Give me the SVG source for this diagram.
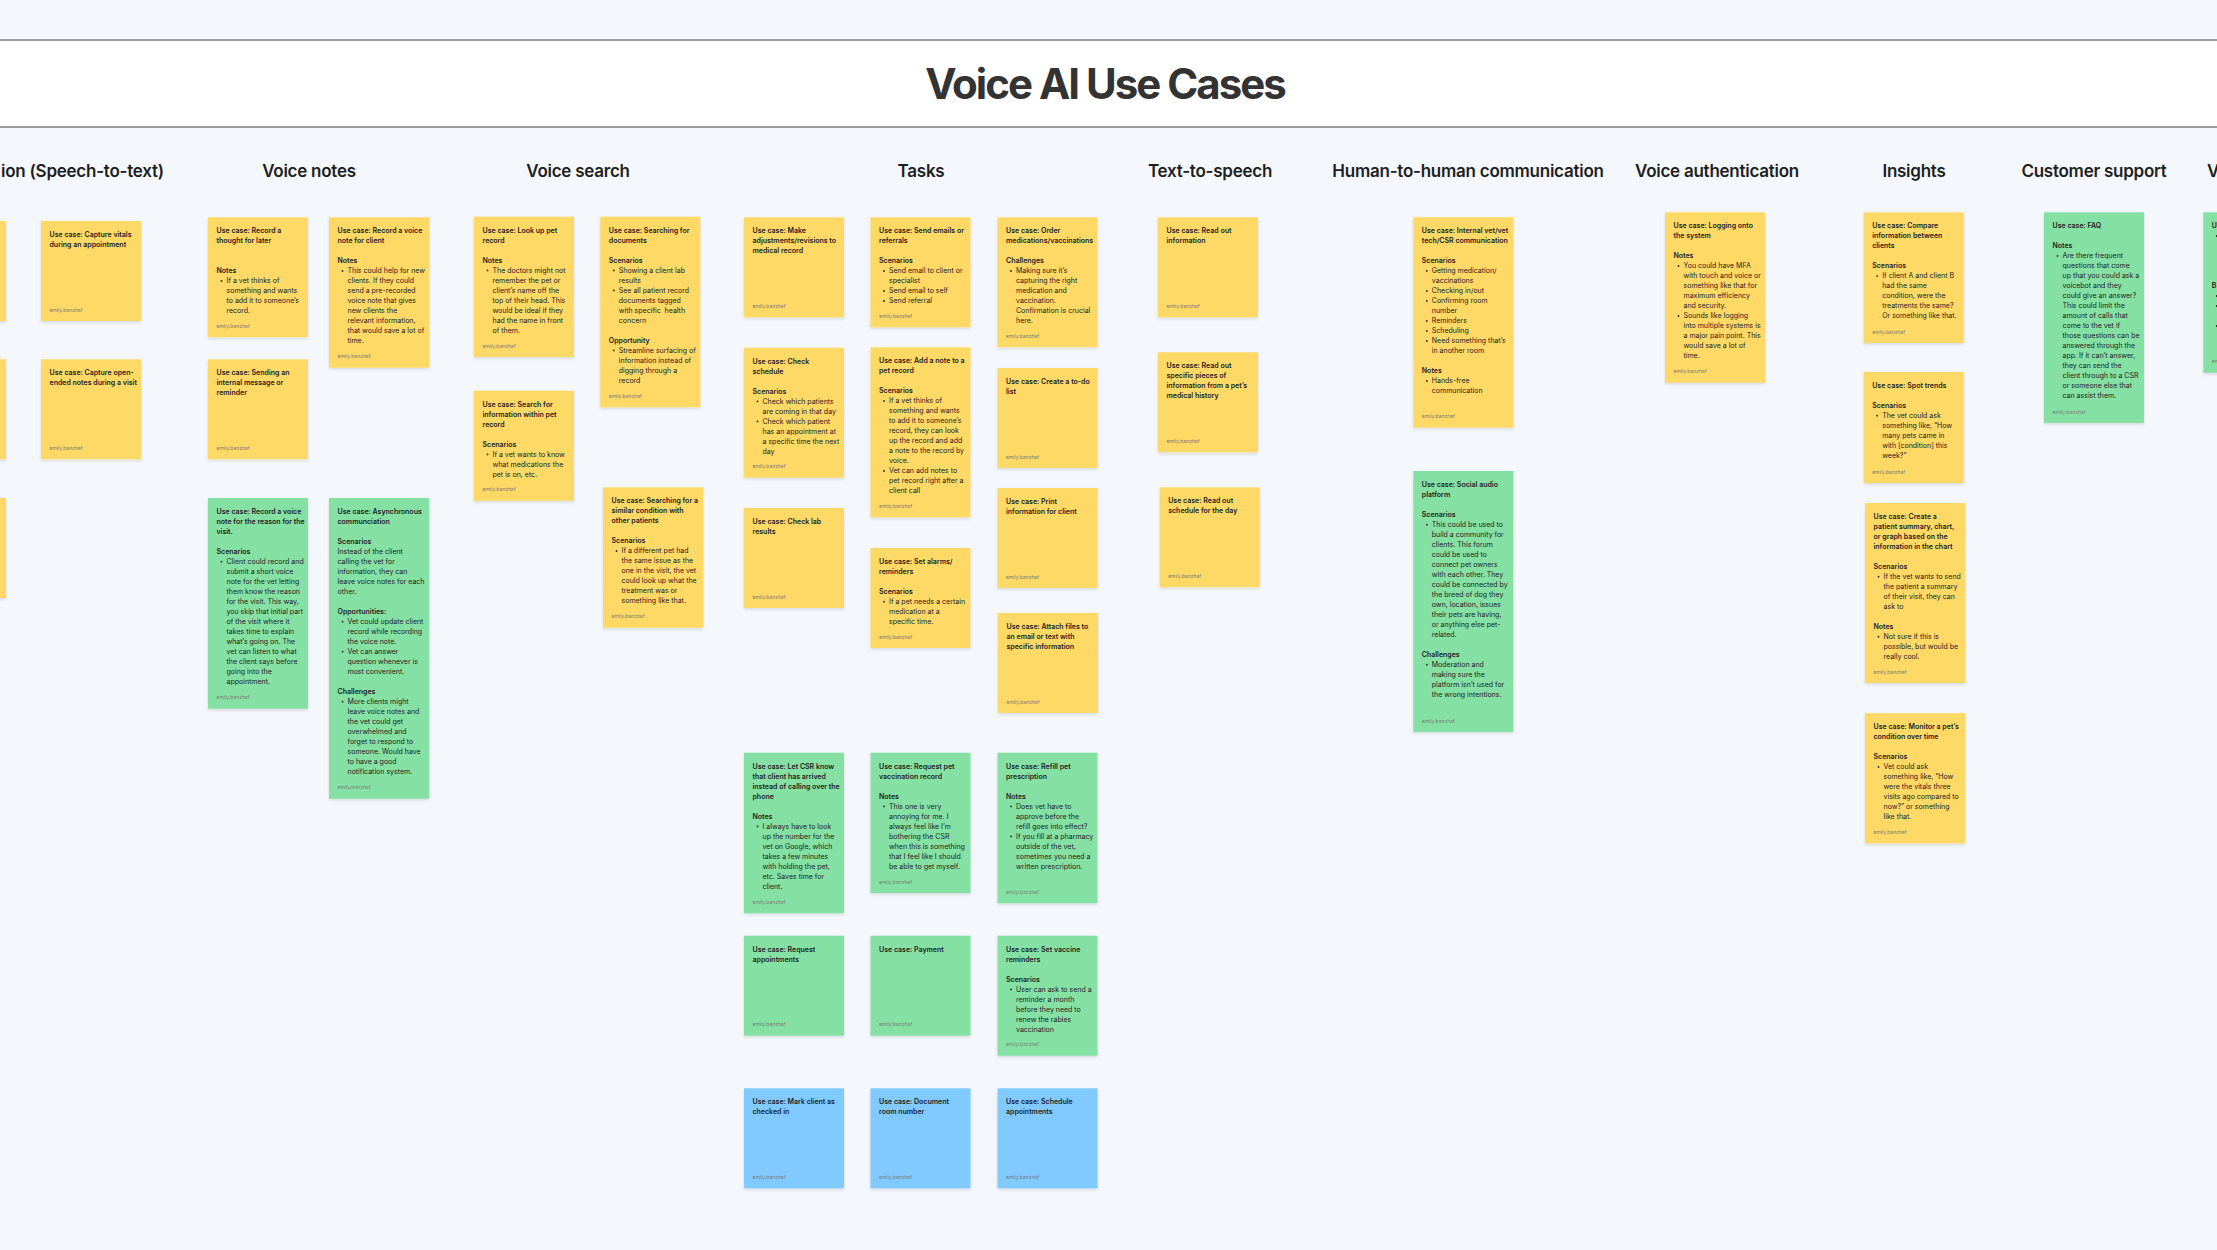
<svg xmlns="http://www.w3.org/2000/svg" width="2217" height="1250" viewBox="0 0 2217 1250">
<defs>
<filter id="sh" x="-10%" y="-10%" width="120%" height="125%"><feDropShadow dx="0" dy="1.5" stdDeviation="1.4" flood-color="#000" flood-opacity="0.13"/></filter>
<style>
.bg{fill:#F4F8FD}
.band{fill:#FFFFFF}
.rule{stroke:#7d7d7d;stroke-width:1.5}
.title{font-family:Inter,"Liberation Sans",sans-serif;font-weight:700;font-size:42px;letter-spacing:-2px;fill:#333333}
.col{font-family:Inter,"Liberation Sans",sans-serif;font-weight:600;font-size:17px;letter-spacing:-0.25px;fill:#1e1e1e}
.y,.g,.b{filter:url(#sh)}
.y{fill:#FFD966}
.g{fill:#85E0A3}
.b{fill:#80CAFF}
.t,.h{font-family:Inter,"Liberation Sans",sans-serif;font-weight:600;font-size:7px;fill:#222222}
.p{font-family:Inter,"Liberation Sans",sans-serif;font-weight:400;font-size:7px;fill:#222222}
.f{font-family:Inter,"Liberation Sans",sans-serif;font-weight:400;font-size:5px;fill:#7a7a7a}
.d{fill:#222222}
</style>
</defs>
<rect class="bg" x="0" y="0" width="2217" height="1250"/>
<rect class="band" x="0" y="40" width="2217" height="87"/>
<line class="rule" x1="0" y1="40" x2="2217" y2="40"/>
<line class="rule" x1="0" y1="127" x2="2217" y2="127"/>
<text class="title" x="1105" y="99" text-anchor="middle">Voice AI Use Cases</text>

<g id="column-headers">
<text class="col" x="1" y="176.5">ion (Speech-to-text)</text>
<text class="col" x="309" y="176.5" text-anchor="middle">Voice notes</text>
<text class="col" x="578" y="176.5" text-anchor="middle">Voice search</text>
<text class="col" x="921" y="176.5" text-anchor="middle">Tasks</text>
<text class="col" x="1210" y="176.5" text-anchor="middle">Text-to-speech</text>
<text class="col" x="1468" y="176.5" text-anchor="middle">Human-to-human communication</text>
<text class="col" x="1717" y="176.5" text-anchor="middle">Voice authentication</text>
<text class="col" x="1914" y="176.5" text-anchor="middle">Insights</text>
<text class="col" x="2094" y="176.5" text-anchor="middle">Customer support</text>
<text class="col" x="2207" y="176.5">V</text>
</g>

<g id="connectors"></g>

<!-- left partial column -->
<g id="n-left-1" transform="translate(-94,221)"><rect class="y" width="100" height="100"/></g>
<g id="n-left-2" transform="translate(-94,359.3)"><rect class="y" width="100" height="100"/></g>
<g id="n-left-3" transform="translate(-94,498)"><rect class="y" width="100" height="100"/></g>

<g id="n-capture-vitals" transform="translate(41,221)"><rect class="y" width="100" height="100"/>
<text class="t" x="8.5" y="16">Use case: Capture vitals</text>
<text class="t" x="8.5" y="26">during an appointment</text>
<text class="f" x="8.5" y="90.7">emily.banzhaf</text></g>

<g id="n-capture-open" transform="translate(41,359.3)"><rect class="y" width="100" height="100"/>
<text class="t" x="8.5" y="16">Use case: Capture open-</text>
<text class="t" x="8.5" y="26">ended notes during a visit</text>
<text class="f" x="8.5" y="90.7">emily.banzhaf</text></g>

<!-- Voice notes -->
<g id="n-record-thought" transform="translate(208,217.3)"><rect class="y" width="100" height="120"/>
<text class="t" x="8.5" y="16">Use case: Record a</text>
<text class="t" x="8.5" y="26">thought for later</text>
<text class="h" x="8.5" y="56">Notes</text>
<circle class="d" cx="13.5" cy="63.7" r="0.9"/>
<text class="p" x="18.5" y="66">If a vet thinks of</text>
<text class="p" x="18.5" y="76">something and wants</text>
<text class="p" x="18.5" y="86">to add it to someone’s</text>
<text class="p" x="18.5" y="96">record.</text>
<text class="f" x="8.5" y="110.7">emily.banzhaf</text></g>

<g id="n-sending-internal" transform="translate(208,359.3)"><rect class="y" width="100" height="100"/>
<text class="t" x="8.5" y="16">Use case: Sending an</text>
<text class="t" x="8.5" y="26">internal message or</text>
<text class="t" x="8.5" y="36">reminder</text>
<text class="f" x="8.5" y="90.7">emily.banzhaf</text></g>

<g id="n-record-voice-client" transform="translate(329,217.3)"><rect class="y" width="100" height="150.4"/>
<text class="t" x="8.5" y="16">Use case: Record a voice</text>
<text class="t" x="8.5" y="26">note for client</text>
<text class="h" x="8.5" y="46">Notes</text>
<circle class="d" cx="13.5" cy="53.7" r="0.9"/>
<text class="p" x="18.5" y="56">This could help for new</text>
<text class="p" x="18.5" y="66">clients. If they could</text>
<text class="p" x="18.5" y="76">send a pre-recorded</text>
<text class="p" x="18.5" y="86">voice note that gives</text>
<text class="p" x="18.5" y="96">new clients the</text>
<text class="p" x="18.5" y="106">relevant information,</text>
<text class="p" x="18.5" y="116">that would save a lot of</text>
<text class="p" x="18.5" y="126">time.</text>
<text class="f" x="8.5" y="141">emily.banzhaf</text></g>

<g id="n-record-reason" transform="translate(208,498)"><rect class="g" width="100" height="210.7"/>
<text class="t" x="8.5" y="16">Use case: Record a voice</text>
<text class="t" x="8.5" y="26">note for the reason for the</text>
<text class="t" x="8.5" y="36">visit.</text>
<text class="h" x="8.5" y="56">Scenarios</text>
<circle class="d" cx="13.5" cy="63.7" r="0.9"/>
<text class="p" x="18.5" y="66">Client could record and</text>
<text class="p" x="18.5" y="76">submit a short voice</text>
<text class="p" x="18.5" y="86">note for the vet letting</text>
<text class="p" x="18.5" y="96">them know the reason</text>
<text class="p" x="18.5" y="106">for the visit. This way,</text>
<text class="p" x="18.5" y="116">you skip that initial part</text>
<text class="p" x="18.5" y="126">of the visit where it</text>
<text class="p" x="18.5" y="136">takes time to explain</text>
<text class="p" x="18.5" y="146">what’s going on. The</text>
<text class="p" x="18.5" y="156">vet can listen to what</text>
<text class="p" x="18.5" y="166">the client says before</text>
<text class="p" x="18.5" y="176">going into the</text>
<text class="p" x="18.5" y="186">appointment.</text>
<text class="f" x="8.5" y="201.4">emily.banzhaf</text></g>

<g id="n-async" transform="translate(329,498)"><rect class="g" width="100" height="300.7"/>
<text class="t" x="8.5" y="16">Use case: Asynchronous</text>
<text class="t" x="8.5" y="26">communciation</text>
<text class="h" x="8.5" y="46">Scenarios</text>
<text class="p" x="8.5" y="56">Instead of the client</text>
<text class="p" x="8.5" y="66">calling the vet for</text>
<text class="p" x="8.5" y="76">information, they can</text>
<text class="p" x="8.5" y="86">leave voice notes for each</text>
<text class="p" x="8.5" y="96">other.</text>
<text class="h" x="8.5" y="116">Opportunities:</text>
<circle class="d" cx="13.5" cy="123.7" r="0.9"/>
<text class="p" x="18.5" y="126">Vet could update client</text>
<text class="p" x="18.5" y="136">record while recording</text>
<text class="p" x="18.5" y="146">the voice note.</text>
<circle class="d" cx="13.5" cy="153.7" r="0.9"/>
<text class="p" x="18.5" y="156">Vet can answer</text>
<text class="p" x="18.5" y="166">question whenever is</text>
<text class="p" x="18.5" y="176">most convenient.</text>
<text class="h" x="8.5" y="196">Challenges</text>
<circle class="d" cx="13.5" cy="203.7" r="0.9"/>
<text class="p" x="18.5" y="206">More clients might</text>
<text class="p" x="18.5" y="216">leave voice notes and</text>
<text class="p" x="18.5" y="226">the vet could get</text>
<text class="p" x="18.5" y="236">overwhelmed and</text>
<text class="p" x="18.5" y="246">forget to respond to</text>
<text class="p" x="18.5" y="256">someone. Would have</text>
<text class="p" x="18.5" y="266">to have a good</text>
<text class="p" x="18.5" y="276">notification system.</text>
<text class="f" x="8.5" y="291.4">emily.banzhaf</text></g>

<!-- Voice search -->
<g id="n-lookup" transform="translate(474,216.7)"><rect class="y" width="100" height="140.3"/>
<text class="t" x="8.5" y="16">Use case: Look up pet</text>
<text class="t" x="8.5" y="26">record</text>
<text class="h" x="8.5" y="46">Notes</text>
<circle class="d" cx="13.5" cy="53.7" r="0.9"/>
<text class="p" x="18.5" y="56">The doctors might not</text>
<text class="p" x="18.5" y="66">remember the pet or</text>
<text class="p" x="18.5" y="76">client’s name off the</text>
<text class="p" x="18.5" y="86">top of their head. This</text>
<text class="p" x="18.5" y="96">would be ideal if they</text>
<text class="p" x="18.5" y="106">had the name in front</text>
<text class="p" x="18.5" y="116">of them.</text>
<text class="f" x="8.5" y="131">emily.banzhaf</text></g>

<g id="n-search-docs" transform="translate(600.3,216.7)"><rect class="y" width="100" height="190.6"/>
<text class="t" x="8.5" y="16">Use case: Searching for</text>
<text class="t" x="8.5" y="26">documents</text>
<text class="h" x="8.5" y="46">Scenarios</text>
<circle class="d" cx="13.5" cy="53.7" r="0.9"/>
<text class="p" x="18.5" y="56">Showing a client lab</text>
<text class="p" x="18.5" y="66">results</text>
<circle class="d" cx="13.5" cy="73.7" r="0.9"/>
<text class="p" x="18.5" y="76">See all patient record</text>
<text class="p" x="18.5" y="86">documents tagged</text>
<text class="p" x="18.5" y="96" xml:space="preserve">with specific  health</text>
<text class="p" x="18.5" y="106">concern</text>
<text class="h" x="8.5" y="126">Opportunity</text>
<circle class="d" cx="13.5" cy="133.7" r="0.9"/>
<text class="p" x="18.5" y="136">Streamline surfacing of</text>
<text class="p" x="18.5" y="146">information instead of</text>
<text class="p" x="18.5" y="156">digging through a</text>
<text class="p" x="18.5" y="166">record</text>
<text class="f" x="8.5" y="181.3">emily.banzhaf</text></g>

<g id="n-search-info" transform="translate(474,390.7)"><rect class="y" width="100" height="110"/>
<text class="t" x="8.5" y="16">Use case: Search for</text>
<text class="t" x="8.5" y="26">information within pet</text>
<text class="t" x="8.5" y="36">record</text>
<text class="h" x="8.5" y="56">Scenarios</text>
<circle class="d" cx="13.5" cy="63.7" r="0.9"/>
<text class="p" x="18.5" y="66">If a vet wants to know</text>
<text class="p" x="18.5" y="76">what medications the</text>
<text class="p" x="18.5" y="86">pet is on, etc.</text>
<text class="f" x="8.5" y="100.7">emily.banzhaf</text></g>

<g id="n-search-similar" transform="translate(603,487.3)"><rect class="y" width="100" height="140.4"/>
<text class="t" x="8.5" y="16">Use case: Searching for a</text>
<text class="t" x="8.5" y="26">similar condition with</text>
<text class="t" x="8.5" y="36">other patients</text>
<text class="h" x="8.5" y="56">Scenarios</text>
<circle class="d" cx="13.5" cy="63.7" r="0.9"/>
<text class="p" x="18.5" y="66">If a different pet had</text>
<text class="p" x="18.5" y="76">the same issue as the</text>
<text class="p" x="18.5" y="86">one in the visit, the vet</text>
<text class="p" x="18.5" y="96">could look up what the</text>
<text class="p" x="18.5" y="106">treatment was or</text>
<text class="p" x="18.5" y="116">something like that.</text>
<text class="f" x="8.5" y="131.1">emily.banzhaf</text></g>

<!-- Tasks -->
<g id="n-make-adjustments" transform="translate(744,217.3)"><rect class="y" width="100" height="100"/>
<text class="t" x="8.5" y="16">Use case: Make</text>
<text class="t" x="8.5" y="26">adjustments/revisions to</text>
<text class="t" x="8.5" y="36">medical record</text>
<text class="f" x="8.5" y="90.7">emily.banzhaf</text></g>

<g id="n-check-schedule" transform="translate(744,347.7)"><rect class="y" width="100" height="130"/>
<text class="t" x="8.5" y="16">Use case: Check</text>
<text class="t" x="8.5" y="26">schedule</text>
<text class="h" x="8.5" y="46">Scenarios</text>
<circle class="d" cx="13.5" cy="53.7" r="0.9"/>
<text class="p" x="18.5" y="56">Check which patients</text>
<text class="p" x="18.5" y="66">are coming in that day</text>
<circle class="d" cx="13.5" cy="73.7" r="0.9"/>
<text class="p" x="18.5" y="76">Check which patient</text>
<text class="p" x="18.5" y="86">has an appointment at</text>
<text class="p" x="18.5" y="96">a specific time the next</text>
<text class="p" x="18.5" y="106">day</text>
<text class="f" x="8.5" y="120.7">emily.banzhaf</text></g>

<g id="n-check-lab" transform="translate(744,508)"><rect class="y" width="100" height="100"/>
<text class="t" x="8.5" y="16">Use case: Check lab</text>
<text class="t" x="8.5" y="26">results</text>
<text class="f" x="8.5" y="90.7">emily.banzhaf</text></g>

<g id="n-send-emails" transform="translate(870.5,217.3)"><rect class="y" width="100" height="110"/>
<text class="t" x="8.5" y="16">Use case: Send emails or</text>
<text class="t" x="8.5" y="26">referrals</text>
<text class="h" x="8.5" y="46">Scenarios</text>
<circle class="d" cx="13.5" cy="53.7" r="0.9"/>
<text class="p" x="18.5" y="56">Send email to client or</text>
<text class="p" x="18.5" y="66">specialist</text>
<circle class="d" cx="13.5" cy="73.7" r="0.9"/>
<text class="p" x="18.5" y="76">Send email to self</text>
<circle class="d" cx="13.5" cy="83.7" r="0.9"/>
<text class="p" x="18.5" y="86">Send referral</text>
<text class="f" x="8.5" y="100.7">emily.banzhaf</text></g>

<g id="n-add-note" transform="translate(870.5,347.3)"><rect class="y" width="100" height="170"/>
<text class="t" x="8.5" y="16">Use case: Add a note to a</text>
<text class="t" x="8.5" y="26">pet record</text>
<text class="h" x="8.5" y="46">Scenarios</text>
<circle class="d" cx="13.5" cy="53.7" r="0.9"/>
<text class="p" x="18.5" y="56">If a vet thinks of</text>
<text class="p" x="18.5" y="66">something and wants</text>
<text class="p" x="18.5" y="76">to add it to someone’s</text>
<text class="p" x="18.5" y="86">record, they can look</text>
<text class="p" x="18.5" y="96">up the record and add</text>
<text class="p" x="18.5" y="106">a note to the record by</text>
<text class="p" x="18.5" y="116">voice.</text>
<circle class="d" cx="13.5" cy="123.7" r="0.9"/>
<text class="p" x="18.5" y="126">Vet can add notes to</text>
<text class="p" x="18.5" y="136">pet record right after a</text>
<text class="p" x="18.5" y="146">client call</text>
<text class="f" x="8.5" y="160.7">emily.banzhaf</text></g>

<g id="n-set-alarms" transform="translate(870.5,548)"><rect class="y" width="100" height="100"/>
<text class="t" x="8.5" y="16">Use case: Set alarms/</text>
<text class="t" x="8.5" y="26">reminders</text>
<text class="h" x="8.5" y="46">Scenarios</text>
<circle class="d" cx="13.5" cy="53.7" r="0.9"/>
<text class="p" x="18.5" y="56">If a pet needs a certain</text>
<text class="p" x="18.5" y="66">medication at a</text>
<text class="p" x="18.5" y="76">specific time.</text>
<text class="f" x="8.5" y="90.7">emily.banzhaf</text></g>

<g id="n-order-meds" transform="translate(997.5,217.3)"><rect class="y" width="100" height="130"/>
<text class="t" x="8.5" y="16">Use case: Order</text>
<text class="t" x="8.5" y="26">medications/vaccinations</text>
<text class="h" x="8.5" y="46">Challenges</text>
<circle class="d" cx="13.5" cy="53.7" r="0.9"/>
<text class="p" x="18.5" y="56">Making sure it’s</text>
<text class="p" x="18.5" y="66">capturing the right</text>
<text class="p" x="18.5" y="76">medication and</text>
<text class="p" x="18.5" y="86">vaccination.</text>
<text class="p" x="18.5" y="96">Confirmation is crucial</text>
<text class="p" x="18.5" y="106">here.</text>
<text class="f" x="8.5" y="120.7">emily.banzhaf</text></g>

<g id="n-todo" transform="translate(997.5,368)"><rect class="y" width="100" height="100"/>
<text class="t" x="8.5" y="16">Use case: Create a to-do</text>
<text class="t" x="8.5" y="26">list</text>
<text class="f" x="8.5" y="90.7">emily.banzhaf</text></g>

<g id="n-print" transform="translate(997.5,488)"><rect class="y" width="100" height="100"/>
<text class="t" x="8.5" y="16">Use case: Print</text>
<text class="t" x="8.5" y="26">information for client</text>
<text class="f" x="8.5" y="90.7">emily.banzhaf</text></g>

<g id="n-attach" transform="translate(998,613)"><rect class="y" width="100" height="100"/>
<text class="t" x="8.5" y="16">Use case: Attach files to</text>
<text class="t" x="8.5" y="26">an email or text with</text>
<text class="t" x="8.5" y="36">specific information</text>
<text class="f" x="8.5" y="90.7">emily.banzhaf</text></g>

<g id="n-csr-know" transform="translate(744,752.7)"><rect class="g" width="100" height="160.6"/>
<text class="t" x="8.5" y="16">Use case: Let CSR know</text>
<text class="t" x="8.5" y="26">that client has arrived</text>
<text class="t" x="8.5" y="36">instead of calling over the</text>
<text class="t" x="8.5" y="46">phone</text>
<text class="h" x="8.5" y="66">Notes</text>
<circle class="d" cx="13.5" cy="73.7" r="0.9"/>
<text class="p" x="18.5" y="76">I always have to look</text>
<text class="p" x="18.5" y="86">up the number for the</text>
<text class="p" x="18.5" y="96">vet on Google, which</text>
<text class="p" x="18.5" y="106">takes a few minutes</text>
<text class="p" x="18.5" y="116">with holding the pet,</text>
<text class="p" x="18.5" y="126">etc. Saves time for</text>
<text class="p" x="18.5" y="136">client.</text>
<text class="f" x="8.5" y="151.3">emily.banzhaf</text></g>

<g id="n-request-vacc" transform="translate(870.5,752.7)"><rect class="g" width="100" height="140.3"/>
<text class="t" x="8.5" y="16">Use case: Request pet</text>
<text class="t" x="8.5" y="26">vaccination record</text>
<text class="h" x="8.5" y="46">Notes</text>
<circle class="d" cx="13.5" cy="53.7" r="0.9"/>
<text class="p" x="18.5" y="56">This one is very</text>
<text class="p" x="18.5" y="66">annoying for me. I</text>
<text class="p" x="18.5" y="76">always feel like I’m</text>
<text class="p" x="18.5" y="86">bothering the CSR</text>
<text class="p" x="18.5" y="96">when this is something</text>
<text class="p" x="18.5" y="106">that I feel like I should</text>
<text class="p" x="18.5" y="116">be able to get myself.</text>
<text class="f" x="8.5" y="131">emily.banzhaf</text></g>

<g id="n-refill" transform="translate(997.5,752.7)"><rect class="g" width="100" height="150.6"/>
<text class="t" x="8.5" y="16">Use case: Refill pet</text>
<text class="t" x="8.5" y="26">prescription</text>
<text class="h" x="8.5" y="46">Notes</text>
<circle class="d" cx="13.5" cy="53.7" r="0.9"/>
<text class="p" x="18.5" y="56">Does vet have to</text>
<text class="p" x="18.5" y="66">approve before the</text>
<text class="p" x="18.5" y="76">refill goes into effect?</text>
<circle class="d" cx="13.5" cy="83.7" r="0.9"/>
<text class="p" x="18.5" y="86">If you fill at a pharmacy</text>
<text class="p" x="18.5" y="96">outside of the vet,</text>
<text class="p" x="18.5" y="106">sometimes you need a</text>
<text class="p" x="18.5" y="116">written prescription.</text>
<text class="f" x="8.5" y="141.3">emily.banzhaf</text></g>

<g id="n-request-appts" transform="translate(744,935.7)"><rect class="g" width="100" height="100"/>
<text class="t" x="8.5" y="16">Use case: Request</text>
<text class="t" x="8.5" y="26">appointments</text>
<text class="f" x="8.5" y="90.7">emily.banzhaf</text></g>

<g id="n-payment" transform="translate(870.5,935.7)"><rect class="g" width="100" height="100"/>
<text class="t" x="8.5" y="16">Use case: Payment</text>
<text class="f" x="8.5" y="90.7">emily.banzhaf</text></g>

<g id="n-vaccine-reminders" transform="translate(997.5,935.7)"><rect class="g" width="100" height="120"/>
<text class="t" x="8.5" y="16">Use case: Set vaccine</text>
<text class="t" x="8.5" y="26">reminders</text>
<text class="h" x="8.5" y="46">Scenarios</text>
<circle class="d" cx="13.5" cy="53.7" r="0.9"/>
<text class="p" x="18.5" y="56">User can ask to send a</text>
<text class="p" x="18.5" y="66">reminder a month</text>
<text class="p" x="18.5" y="76">before they need to</text>
<text class="p" x="18.5" y="86">renew the rabies</text>
<text class="p" x="18.5" y="96">vaccination</text>
<text class="f" x="8.5" y="110.7">emily.banzhaf</text></g>

<g id="n-mark-checked" transform="translate(744,1088.3)"><rect class="b" width="100" height="100"/>
<text class="t" x="8.5" y="16">Use case: Mark client as</text>
<text class="t" x="8.5" y="26">checked in</text>
<text class="f" x="8.5" y="90.7">emily.banzhaf</text></g>

<g id="n-document-room" transform="translate(870.5,1088.3)"><rect class="b" width="100" height="100"/>
<text class="t" x="8.5" y="16">Use case: Document</text>
<text class="t" x="8.5" y="26">room number</text>
<text class="f" x="8.5" y="90.7">emily.banzhaf</text></g>

<g id="n-schedule-appts" transform="translate(997.5,1088.3)"><rect class="b" width="100" height="100"/>
<text class="t" x="8.5" y="16">Use case: Schedule</text>
<text class="t" x="8.5" y="26">appointments</text>
<text class="f" x="8.5" y="90.7">emily.banzhaf</text></g>

<!-- Text-to-speech -->
<g id="n-read-info" transform="translate(1158,217.3)"><rect class="y" width="100" height="100"/>
<text class="t" x="8.5" y="16">Use case: Read out</text>
<text class="t" x="8.5" y="26">information</text>
<text class="f" x="8.5" y="90.7">emily.banzhaf</text></g>

<g id="n-read-specific" transform="translate(1158,352.3)"><rect class="y" width="100" height="100"/>
<text class="t" x="8.5" y="16">Use case: Read out</text>
<text class="t" x="8.5" y="26">specific pieces of</text>
<text class="t" x="8.5" y="36">information from a pet’s</text>
<text class="t" x="8.5" y="46">medical history</text>
<text class="f" x="8.5" y="90.7">emily.banzhaf</text></g>

<g id="n-read-schedule" transform="translate(1159.7,487.3)"><rect class="y" width="100" height="100"/>
<text class="t" x="8.5" y="16">Use case: Read out</text>
<text class="t" x="8.5" y="26">schedule for the day</text>
<text class="f" x="8.5" y="90.7">emily.banzhaf</text></g>

<!-- Human-to-human communication -->
<g id="n-internal-comm" transform="translate(1413.3,217.2)"><rect class="y" width="100" height="210.4"/>
<text class="t" x="8.5" y="16">Use case: Internal vet/vet</text>
<text class="t" x="8.5" y="26">tech/CSR communication</text>
<text class="h" x="8.5" y="46">Scenarios</text>
<circle class="d" cx="13.5" cy="53.7" r="0.9"/>
<text class="p" x="18.5" y="56">Getting medication/</text>
<text class="p" x="18.5" y="66">vaccinations</text>
<circle class="d" cx="13.5" cy="73.7" r="0.9"/>
<text class="p" x="18.5" y="76">Checking in/out</text>
<circle class="d" cx="13.5" cy="83.7" r="0.9"/>
<text class="p" x="18.5" y="86">Confirming room</text>
<text class="p" x="18.5" y="96">number</text>
<circle class="d" cx="13.5" cy="103.7" r="0.9"/>
<text class="p" x="18.5" y="106">Reminders</text>
<circle class="d" cx="13.5" cy="113.7" r="0.9"/>
<text class="p" x="18.5" y="116">Scheduling</text>
<circle class="d" cx="13.5" cy="123.7" r="0.9"/>
<text class="p" x="18.5" y="126">Need something that’s</text>
<text class="p" x="18.5" y="136">in another room</text>
<text class="h" x="8.5" y="156">Notes</text>
<circle class="d" cx="13.5" cy="163.7" r="0.9"/>
<text class="p" x="18.5" y="166">Hands-free</text>
<text class="p" x="18.5" y="176">communication</text>
<text class="f" x="8.5" y="201.1">emily.banzhaf</text></g>

<g id="n-social-audio" transform="translate(1413.3,471)"><rect class="g" width="100" height="261"/>
<text class="t" x="8.5" y="16">Use case: Social audio</text>
<text class="t" x="8.5" y="26">platform</text>
<text class="h" x="8.5" y="46">Scenarios</text>
<circle class="d" cx="13.5" cy="53.7" r="0.9"/>
<text class="p" x="18.5" y="56">This could be used to</text>
<text class="p" x="18.5" y="66">build a community for</text>
<text class="p" x="18.5" y="76">clients. This forum</text>
<text class="p" x="18.5" y="86">could be used to</text>
<text class="p" x="18.5" y="96">connect pet owners</text>
<text class="p" x="18.5" y="106">with each other. They</text>
<text class="p" x="18.5" y="116">could be connected by</text>
<text class="p" x="18.5" y="126">the breed of dog they</text>
<text class="p" x="18.5" y="136">own, location, issues</text>
<text class="p" x="18.5" y="146">their pets are having,</text>
<text class="p" x="18.5" y="156">or anything else pet-</text>
<text class="p" x="18.5" y="166">related.</text>
<text class="h" x="8.5" y="186">Challenges</text>
<circle class="d" cx="13.5" cy="193.7" r="0.9"/>
<text class="p" x="18.5" y="196">Moderation and</text>
<text class="p" x="18.5" y="206">making sure the</text>
<text class="p" x="18.5" y="216">platform isn’t used for</text>
<text class="p" x="18.5" y="226">the wrong intentions.</text>
<text class="f" x="8.5" y="251.7">emily.banzhaf</text></g>

<!-- Voice authentication -->
<g id="n-logging" transform="translate(1665,212.3)"><rect class="y" width="100" height="170.4"/>
<text class="t" x="8.5" y="16">Use case: Logging onto</text>
<text class="t" x="8.5" y="26">the system</text>
<text class="h" x="8.5" y="46">Notes</text>
<circle class="d" cx="13.5" cy="53.7" r="0.9"/>
<text class="p" x="18.5" y="56">You could have MFA</text>
<text class="p" x="18.5" y="66">with touch and voice or</text>
<text class="p" x="18.5" y="76">something like that for</text>
<text class="p" x="18.5" y="86">maximum efficiency</text>
<text class="p" x="18.5" y="96">and security.</text>
<circle class="d" cx="13.5" cy="103.7" r="0.9"/>
<text class="p" x="18.5" y="106">Sounds like logging</text>
<text class="p" x="18.5" y="116">into multiple systems is</text>
<text class="p" x="18.5" y="126">a major pain point. This</text>
<text class="p" x="18.5" y="136">would save a lot of</text>
<text class="p" x="18.5" y="146">time.</text>
<text class="f" x="8.5" y="161.1">emily.banzhaf</text></g>

<!-- Insights -->
<g id="n-compare" transform="translate(1863.7,212.4)"><rect class="y" width="100" height="130.6"/>
<text class="t" x="8.5" y="16">Use case: Compare</text>
<text class="t" x="8.5" y="26">information between</text>
<text class="t" x="8.5" y="36">clients</text>
<text class="h" x="8.5" y="56">Scenarios</text>
<circle class="d" cx="13.5" cy="63.7" r="0.9"/>
<text class="p" x="18.5" y="66">If client A and client B</text>
<text class="p" x="18.5" y="76">had the same</text>
<text class="p" x="18.5" y="86">condition, were the</text>
<text class="p" x="18.5" y="96">treatments the same?</text>
<text class="p" x="18.5" y="106">Or something like that.</text>
<text class="f" x="8.5" y="121.3">emily.banzhaf</text></g>

<g id="n-spot-trends" transform="translate(1863.7,372)"><rect class="y" width="100" height="111"/>
<text class="t" x="8.5" y="16">Use case: Spot trends</text>
<text class="h" x="8.5" y="36">Scenarios</text>
<circle class="d" cx="13.5" cy="43.7" r="0.9"/>
<text class="p" x="18.5" y="46">The vet could ask</text>
<text class="p" x="18.5" y="56">something like, “How</text>
<text class="p" x="18.5" y="66">many pets came in</text>
<text class="p" x="18.5" y="76">with [condition] this</text>
<text class="p" x="18.5" y="86">week?”</text>
<text class="f" x="8.5" y="101.7">emily.banzhaf</text></g>

<g id="n-create-summary" transform="translate(1865,503)"><rect class="y" width="100" height="180"/>
<text class="t" x="8.5" y="16">Use case: Create a</text>
<text class="t" x="8.5" y="26">patient summary, chart,</text>
<text class="t" x="8.5" y="36">or graph based on the</text>
<text class="t" x="8.5" y="46">information in the chart</text>
<text class="h" x="8.5" y="66">Scenarios</text>
<circle class="d" cx="13.5" cy="73.7" r="0.9"/>
<text class="p" x="18.5" y="76">If the vet wants to send</text>
<text class="p" x="18.5" y="86">the patient a summary</text>
<text class="p" x="18.5" y="96">of their visit, they can</text>
<text class="p" x="18.5" y="106">ask to</text>
<text class="h" x="8.5" y="126">Notes</text>
<circle class="d" cx="13.5" cy="133.7" r="0.9"/>
<text class="p" x="18.5" y="136">Not sure if this is</text>
<text class="p" x="18.5" y="146">possible, but would be</text>
<text class="p" x="18.5" y="156">really cool.</text>
<text class="f" x="8.5" y="170.7">emily.banzhaf</text></g>

<g id="n-monitor" transform="translate(1865,713.2)"><rect class="y" width="100" height="130.2"/>
<text class="t" x="8.5" y="16">Use case: Monitor a pet’s</text>
<text class="t" x="8.5" y="26">condition over time</text>
<text class="h" x="8.5" y="46">Scenarios</text>
<circle class="d" cx="13.5" cy="53.7" r="0.9"/>
<text class="p" x="18.5" y="56">Vet could ask</text>
<text class="p" x="18.5" y="66">something like, “How</text>
<text class="p" x="18.5" y="76">were the vitals three</text>
<text class="p" x="18.5" y="86">visits ago compared to</text>
<text class="p" x="18.5" y="96">now?” or something</text>
<text class="p" x="18.5" y="106">like that.</text>
<text class="f" x="8.5" y="120.9">emily.banzhaf</text></g>

<!-- Customer support -->
<g id="n-faq" transform="translate(2044,212.3)"><rect class="g" width="100" height="210.7"/>
<text class="t" x="8.5" y="16">Use case: FAQ</text>
<text class="h" x="8.5" y="36">Notes</text>
<circle class="d" cx="13.5" cy="43.7" r="0.9"/>
<text class="p" x="18.5" y="46">Are there frequent</text>
<text class="p" x="18.5" y="56">questions that come</text>
<text class="p" x="18.5" y="66">up that you could ask a</text>
<text class="p" x="18.5" y="76">voicebot and they</text>
<text class="p" x="18.5" y="86">could give an answer?</text>
<text class="p" x="18.5" y="96">This could limit the</text>
<text class="p" x="18.5" y="106">amount of calls that</text>
<text class="p" x="18.5" y="116">come to the vet if</text>
<text class="p" x="18.5" y="126">those questions can be</text>
<text class="p" x="18.5" y="136">answered through the</text>
<text class="p" x="18.5" y="146">app. If it can’t answer,</text>
<text class="p" x="18.5" y="156">they can send the</text>
<text class="p" x="18.5" y="166">client through to a CSR</text>
<text class="p" x="18.5" y="176">or someone else that</text>
<text class="p" x="18.5" y="186">can assist them.</text>
<text class="f" x="8.5" y="201.4">emily.banzhaf</text></g>

<g id="n-right-partial" transform="translate(2203.3,212.3)"><rect class="g" width="100" height="160.4"/>
<text class="t" x="8.5" y="16">U</text>
<circle class="d" cx="13.5" cy="23.7" r="0.9"/>
<text class="h" x="8.5" y="76">B</text>
<circle class="d" cx="13.5" cy="83.7" r="0.9"/>
<circle class="d" cx="13.5" cy="93.7" r="0.9"/>
<circle class="d" cx="13.5" cy="113.7" r="0.9"/>
<text class="f" x="8.5" y="151.1">em</text></g>
</svg>
